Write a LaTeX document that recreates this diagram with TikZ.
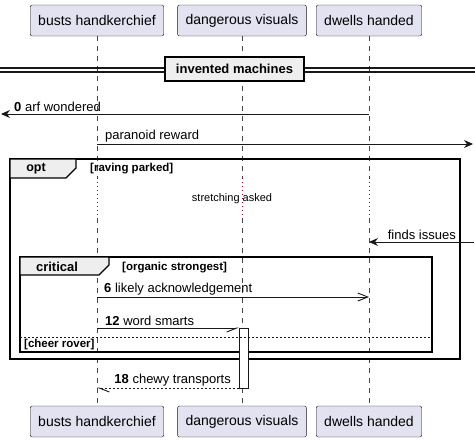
\documentclass[tikz,border=0pt]{standalone}
\usepackage{fontspec}
\setmainfont{Liberation Sans}
\usetikzlibrary{arrows.meta}
\definecolor{partfill}{HTML}{E2E2F0}
\definecolor{ink}{HTML}{181818}
\definecolor{tabfill}{HTML}{EEEEEE}
\definecolor{delaydot}{HTML}{8B0A3C}

\begin{document}
\begin{tikzpicture}
[x=1pt, y=-1pt,
part/.style ={rectangle, draw=ink, fill=partfill, rounded corners=2pt, minimum height=31pt, inner xsep=8pt, font=\fontsize{14}{16}\selectfont},
life/.style ={draw=ink!80, dash pattern=on 5pt off 5pt, line width=0.6pt},
dly/.style ={draw=delaydot, dash pattern=on 1pt off 3pt, line width=0.9pt},
msg/.style ={font=\fontsize{13}{15}\selectfont, inner sep=0pt},
line/.style ={draw=ink, line width=0.9pt, -{Stealth[length=9pt, width=8pt, inset=3pt]}},
open/.style ={draw=ink, line width=0.9pt, -{Straight Barb[length=10pt, width=8pt]}},
half/.style ={draw=ink, line width=0.9pt, -{Straight Barb[length=10pt, width=8pt, right]}},
halfback/.style ={draw=ink, line width=0.9pt, dash pattern=on 2pt off 2pt, -{Straight Barb[length=10pt, width=8pt, left]}},
frame/.style ={draw=black, line width=1.5pt},
tab/.style ={draw=black, line width=1.2pt, fill=tabfill},
lbl/.style ={font=\bfseries\fontsize{12.5}{14}\selectfont, inner sep=0pt},
cond/.style ={font=\bfseries\fontsize{11.5}{13}\selectfont, inner sep=0pt, anchor=west}]
\useasboundingbox (0,0) rectangle (475,442);
% participants
\draw (97, 20.5) node[part] (bh) {busts handkerchief};
\draw (242, 20.5) node[part] (dv) {dangerous visuals};
\draw (369, 20.5) node[part] (dh) {dwells handed};
\draw (97, 421.5) node[part] (bhb) {busts handkerchief};
\draw (242, 421.5) node[part] (dvb) {dangerous visuals};
\draw (369, 421.5) node[part] (dhb) {dwells handed};
% lifelines, with the delay part dotted
\coordinate (d1) at (0, 178);
\coordinate (d2) at (0, 218);
\foreach \p in {bh, dv, dh} {
  \draw[life] (\p.south) -- (\p.south |- d1);
  \draw[dly] (\p.south |- d1) -- (\p.south |- d2);
  \draw[life] (\p.south |- d2) -- (\p b.north);
}
% divider
\draw[ink, line width=1.2pt] (0, 68) -- (475, 68);
\draw[ink, line width=1.2pt] (0, 72) -- (475, 72);
\draw[tab, line width=2pt] (165, 57) rectangle (304, 81);
\draw (234.5, 69) node[lbl, font=\bfseries\fontsize{13}{15}\selectfont] (div) {invented machines};
% messages
\coordinate (m0a) at (369, 114);
\coordinate (m0b) at (1, 114);
\draw[line] (m0a) -- (m0b);
\draw (14, 112) node[msg, anchor=south west] (t0) {\textbf{0} arf wondered};
\coordinate (m1a) at (97, 144);
\coordinate (m1b) at (473, 144);
\draw[line] (m1a) -- (m1b);
\draw (105, 142.5) node[msg, anchor=south west] (t1) {paranoid reward};
% opt frame
\draw[frame] (10, 159) rectangle (460, 359);
\draw[tab] (10, 159) -- (76, 159) -- (76, 168) -- (66, 178) -- (10, 178) -- cycle;
\draw (36, 169) node[lbl] (opt) {opt};
\draw (90, 169) node[cond] (c1) {[raving parked]};
\draw (232, 199) node[msg, font=\fontsize{11}{13}\selectfont] (delay) {stretching asked};
\coordinate (m2a) at (474, 242);
\coordinate (m2b) at (369, 242);
\draw[line] (m2a) -- (m2b);
\draw (456, 240) node[msg, anchor=south east] (t2) {finds issues};
% critical frame
\draw[frame] (20, 257) rectangle (432, 352);
\draw[tab] (20, 257) -- (109, 257) -- (109, 265) -- (99, 275) -- (20, 275) -- cycle;
\draw (57, 267) node[lbl, font=\bfseries\fontsize{13}{15}\selectfont] (crit) {critical};
\draw (122, 268) node[cond] (c2) {[organic strongest]};
\coordinate (m3a) at (97, 297);
\coordinate (m3b) at (369, 297);
\draw[open] (m3a) -- (m3b);
\draw (104, 295) node[msg, anchor=south west] (t3) {\textbf{6} likely acknowledgement};
\draw[fill=white, draw=ink, line width=0.9pt] (239, 328) rectangle (248, 388);
\coordinate (m4a) at (97, 328);
\coordinate (m4b) at (239, 328);
\draw[half] (m4a) -- (m4b);
\draw (105, 326) node[msg, anchor=south west] (t4) {\textbf{12} word smarts};
\draw[ink, line width=0.7pt, dash pattern=on 2pt off 2pt] (20, 337) -- (432, 337);
\draw (24, 345) node[cond] (c3) {[cheer rover]};
% return
\coordinate (m5a) at (239, 388);
\coordinate (m5b) at (97, 388);
\draw[halfback] (m5a) -- (m5b);
\draw (231, 386) node[msg, anchor=south east] (t5) {\textbf{18} chewy transports};
\end{tikzpicture}
\end{document}
